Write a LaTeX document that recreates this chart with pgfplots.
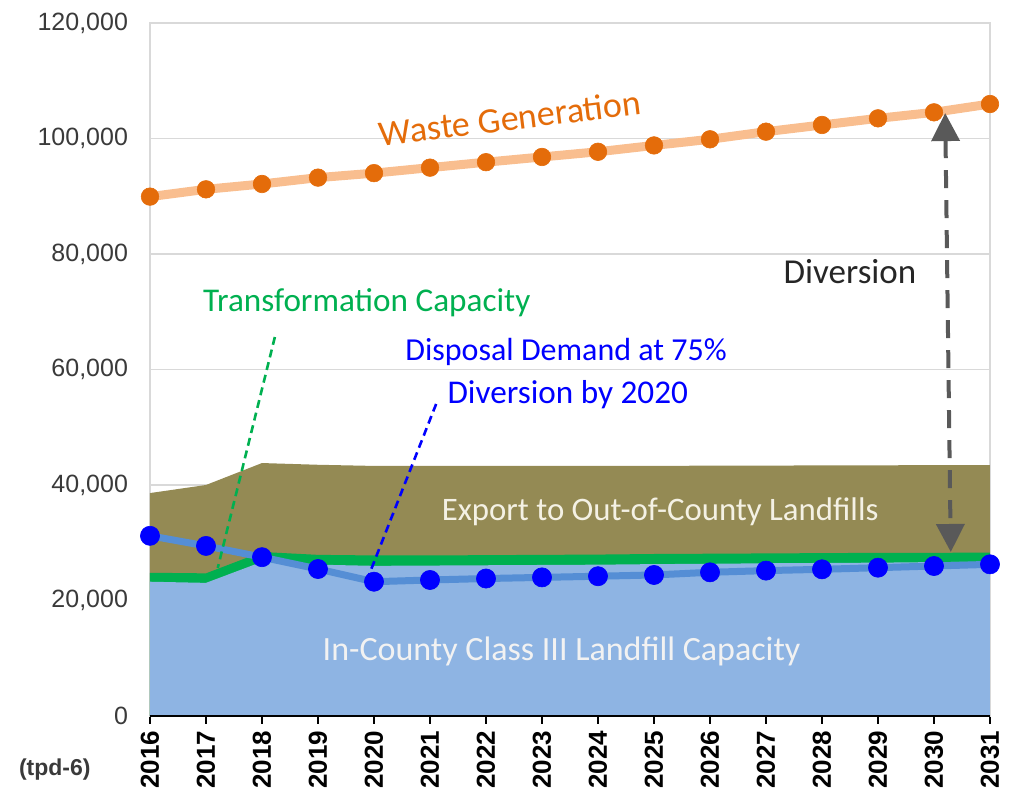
\documentclass[border=0pt]{standalone}
\usepackage{pgfplots}
\pgfplotsset{compat=1.18}
\usepackage{fontspec}
\setmainfont{Liberation Sans}
\newfontfamily\calib{Carlito}
\usetikzlibrary{arrows.meta}
\definecolor{olivefill}{HTML}{948A54}
\definecolor{greenfill}{HTML}{00B050}
\definecolor{bluefill}{HTML}{8EB4E3}
\definecolor{blueline}{HTML}{558ED5}
\definecolor{bluedot}{HTML}{0000FF}
\definecolor{orangeline}{HTML}{F9BE8F}
\definecolor{orangedot}{HTML}{E46C0A}
\definecolor{gridgray}{HTML}{D9D9D9}
\definecolor{ytext}{HTML}{3A3A3A}
\definecolor{arrowgray}{HTML}{595959}
\definecolor{creamtext}{HTML}{F4F1E4}
\begin{document}
\begin{tikzpicture}
\useasboundingbox (-75pt,-37.5pt) rectangle (429.5pt,358pt);
\begin{axis}[
  at={(0,0)}, anchor=south west,
  scale only axis, width=420pt, height=346.5pt,
  xmin=2016, xmax=2031, ymin=0, ymax=120000,
  scaled x ticks=false, scaled y ticks=false,
  xtick={2016,2017,2018,2019,2020,2021,2022,2023,2024,2025,2026,2027,2028,2029,2030,2031},
  xticklabels={2016,2017,2018,2019,2020,2021,2022,2023,2024,2025,2026,2027,2028,2029,2030,2031},
  ytick={0,20000,40000,60000,80000,100000,120000},
  yticklabels={0,{20,000},{40,000},{60,000},{80,000},{100,000},{120,000}},
  x tick label style={rotate=90, anchor=east, font=\bfseries\fontsize{13}{13}\selectfont},
  y tick label style={font=\fontsize{12.5}{12.5}\selectfont, text=ytext, xshift=-3.5pt},
  ymajorgrids, grid style={gridgray, line width=0.6pt},
  axis line style={gridgray, line width=0.6pt},
  tick pos=left, tick align=outside,
  xtick style={black, line width=0.7pt}, major tick length=4pt,
  ytick style={draw=none},
  clip=false,
]
% Export to Out-of-County Landfills (top of stack)
\addplot[fill=olivefill, draw=none] coordinates {
(2016,38600) (2017,40000) (2018,43800) (2019,43500) (2020,43300) (2021,43300) (2022,43300) (2023,43300) (2024,43300) (2025,43300) (2026,43350) (2027,43350) (2028,43400) (2029,43400) (2030,43450) (2031,43450)
} \closedcycle;
% Transformation capacity (top of green band)
\addplot[fill=greenfill, draw=none] coordinates {
(2016,24800) (2017,24700) (2018,28400) (2019,27900) (2020,27800) (2021,27800) (2022,27850) (2023,27900) (2024,27950) (2025,28050) (2026,28100) (2027,28150) (2028,28200) (2029,28250) (2030,28250) (2031,28300)
} \closedcycle;
% In-County Class III Landfill Capacity
\addplot[fill=bluefill, draw=none] coordinates {
(2016,23250) (2017,23050) (2018,26700) (2019,26200) (2020,26000) (2021,26050) (2022,26100) (2023,26150) (2024,26200) (2025,26300) (2026,26350) (2027,26450) (2028,26500) (2029,26550) (2030,26650) (2031,26700)
} \closedcycle;
% Disposal demand
\addplot[blueline, line width=3.5pt, mark=*, mark size=4.8pt, mark options={solid, line width=0.3pt, draw=bluedot, fill=bluedot}] coordinates {
(2016,31200) (2017,29450) (2018,27500) (2019,25450) (2020,23250) (2021,23550) (2022,23800) (2023,24000) (2024,24200) (2025,24420) (2026,24880) (2027,25170) (2028,25400) (2029,25680) (2030,25970) (2031,26260)
};
% Waste generation
\addplot[orangeline, line width=4.5pt, mark=*, mark size=4.4pt, mark options={solid, line width=0.3pt, draw=orangedot, fill=orangedot}] coordinates {
(2016,89930) (2017,91200) (2018,92120) (2019,93220) (2020,94000) (2021,94950) (2022,95900) (2023,96800) (2024,97700) (2025,98800) (2026,99860) (2027,101180) (2028,102340) (2029,103490) (2030,104530) (2031,105970)
};
\draw[black, line width=1pt] (axis cs:2016,0) -- (axis cs:2031,0);
% annotations
\draw[greenfill, line width=1.3pt, dash pattern=on 4pt off 2.5pt] (axis cs:2018.23,65630) -- (axis cs:2017.21,25630);
\draw[bluedot, line width=1.3pt, dash pattern=on 4pt off 2.5pt] (axis cs:2021.11,54030) -- (axis cs:2019.91,24420);
\draw[arrowgray, line width=2pt, dash pattern=on 9pt off 6pt, {Triangle[width=14pt,length=14pt]}-{Triangle[width=14pt,length=14pt]}] (axis cs:2030.2,104400) -- (axis cs:2030.3,28400);
\node[text=orangedot, rotate=7, font=\calib\fontsize{18}{18}\selectfont] at (axis cs:2022.43,103550) {Waste Generation};
\node[text=black!85, font=\calib\fontsize{17.5}{17.5}\selectfont] at (axis cs:2028.5,76880) {Diversion};
\node[text=greenfill, font=\calib\fontsize{16.6}{16.6}\selectfont] at (axis cs:2019.87,71515) {Transformation Capacity};
\node[text=bluedot, font=\calib\fontsize{16}{16}\selectfont] at (axis cs:2023.43,63080) {Disposal Demand at 75\%};
\node[text=bluedot, font=\calib\fontsize{16.6}{16.6}\selectfont] at (axis cs:2023.46,55580) {Diversion by 2020};
\node[text=creamtext, font=\calib\fontsize{16.4}{16.4}\selectfont] at (axis cs:2025.11,35380) {Export to Out-of-County Landfills};
\node[text=white!95!black, font=\calib\fontsize{17}{17}\selectfont] at (axis cs:2023.35,11130) {In-County Class III Landfill Capacity};
\node[font=\bfseries\fontsize{11.5}{11.5}\selectfont, text=ytext] at (axis cs:2014.3,-9350) {(tpd-6)};
\end{axis}
\end{tikzpicture}
\end{document}
